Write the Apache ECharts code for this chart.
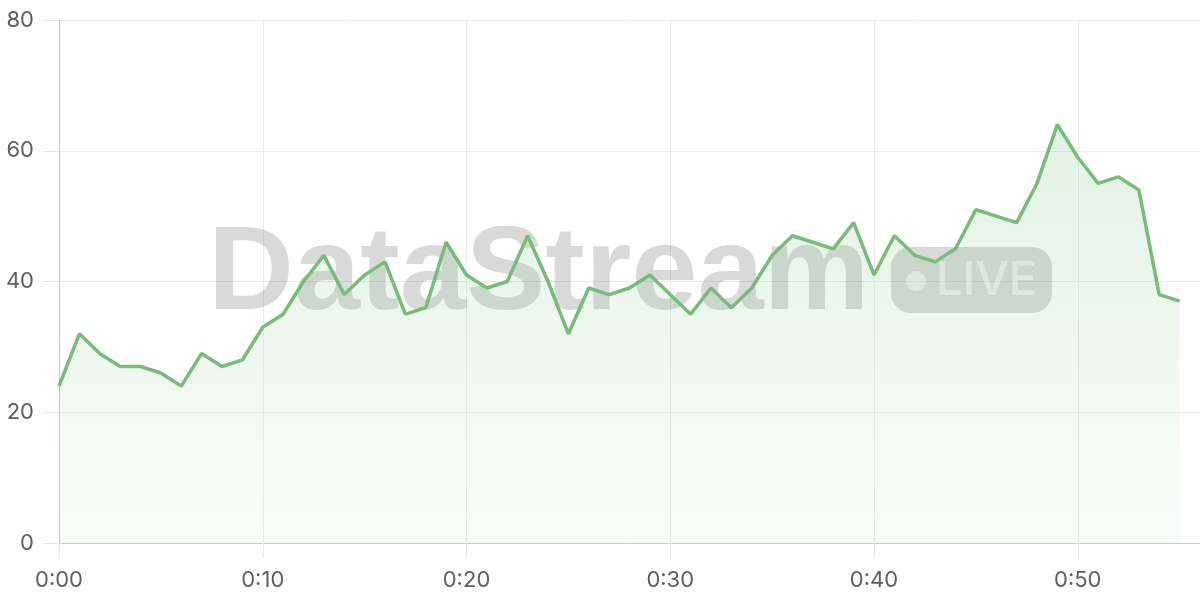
<!DOCTYPE html>
<html>
<head>
<meta charset="utf-8">
<script src="https://cdn.jsdelivr.net/npm/echarts@6/dist/echarts.min.js"></script>
<style>
html,body{margin:0;padding:0;background:#fff;}
#c{width:1200px;height:600px;}
</style>
</head>
<body>
<div id="c"></div>
<script>
var categories = ["0:00","0:01","0:02","0:03","0:04","0:05","0:06","0:07","0:08","0:09",
  "0:10","0:11","0:12","0:13","0:14","0:15","0:16","0:17","0:18","0:19",
  "0:20","0:21","0:22","0:23","0:24","0:25","0:26","0:27","0:28","0:29",
  "0:30","0:31","0:32","0:33","0:34","0:35","0:36","0:37","0:38","0:39",
  "0:40","0:41","0:42","0:43","0:44","0:45","0:46","0:47","0:48","0:49",
  "0:50","0:51","0:52","0:53","0:54","0:55","0:56"];
var values = [24,32,29,27,27,26,24,29,27,28,
  33,35,40,44,38,41,43,35,36,46,
  41,39,40,47,40,32,39,38,39,41,
  38,35,39,36,39,44,47,46,45,49,
  41,47,44,43,45,51,50,49,55,64,
  59,55,56,54,38,37];
var yTicks = {min:0, max:80, interval:20};
var watermarkText = "DataStream";
var badgeText = "LIVE";

var chart = echarts.init(document.getElementById('c'), null, {renderer:'canvas'});
var labelFont = 'Inter';
chart.setOption({
  animation:false,
  grid:{left:59, right:0, top:20, bottom:57, containLabel:false},
  graphic:[
    {type:'text', z:1, x:208, y:276, style:{text:watermarkText, font:'bold 119px "Liberation Sans", Arial, sans-serif', fill:'rgba(0,0,0,0.15)', verticalAlign:'middle', align:'left'}},
    {type:'rect', z:1, shape:{x:891, y:247, width:161, height:66, r:20}, style:{fill:'rgba(0,0,0,0.15)'}},
    {type:'circle', z:1, shape:{cx:916, cy:281, r:10}, style:{fill:'rgba(255,255,255,0.55)'}},
    {type:'text', z:1, x:936, y:281, style:{text:badgeText, font:'500 47px Inter, sans-serif', fill:'rgba(255,255,255,0.55)', verticalAlign:'middle', align:'left'}}
  ],
  xAxis:{
    type:'category',
    data:categories,
    boundaryGap:false,
    axisLine:{show:true, lineStyle:{color:'#cccccc', width:1}},
    axisTick:{show:true, interval:9, length:15, lineStyle:{color:'#e6e6e6'}},
    axisLabel:{interval:9, margin:26, color:'#5e5e5e', fontSize:22, fontFamily:labelFont},
    splitLine:{show:true, interval:9, lineStyle:{color:'#ebebeb', width:1}}
  },
  yAxis:{
    type:'value',
    min:yTicks.min, max:yTicks.max, interval:yTicks.interval,
    axisLine:{show:true, lineStyle:{color:'#cccccc', width:1}},
    axisTick:{show:true, length:16, lineStyle:{color:'#e6e6e6'}},
    axisLabel:{margin:25, color:'#5e5e5e', fontSize:22, fontFamily:labelFont},
    splitLine:{show:true, lineStyle:{color:'#ebebeb', width:1}}
  },
  series:[{
    type:'line',
    data:values,
    z:3,
    symbol:'none',
    smooth:false,
    lineStyle:{color:'#78bc7a', width:3.5},
    itemStyle:{color:'#78bc7a'},
    areaStyle:{
      color:new echarts.graphic.LinearGradient(0,0,0,1,[
        {offset:0, color:'rgba(129,199,132,0.32)'},
        {offset:1, color:'rgba(129,199,132,0.06)'}
      ])
    }
  }]
});
</script>
</body>
</html>
